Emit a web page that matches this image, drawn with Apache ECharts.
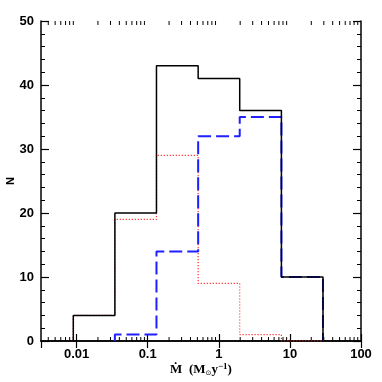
<!DOCTYPE html>
<html>
<head>
<meta charset="utf-8">
<script src="https://cdn.jsdelivr.net/npm/echarts@6/dist/echarts.min.js"></script>
<style>
  html, body { margin:0; padding:0; background:#fff; }
  #main { width:382px; height:382px; }
</style>
</head>
<body>
<div id="main"></div>
<script>
// bin edges (Mdot, Msun/yr) and counts per bin
var binEdges = [0.009, 0.0346, 0.133, 0.513, 1.97, 7.6, 29.2];
var countAll = [4, 20, 43, 41, 36, 10];
var countRed = [4, 19, 29, 9, 1, 0];
var countBlue = [0, 1, 14, 32, 35, 10];

var xMin = Math.pow(10, -2.5);
var xMax = 100;
var xMajor = [0.01, 0.1, 1, 10, 100];

var FONT = 'Liberation Sans';
var SERIF = 'Liberation Serif';

// outline of a histogram, leading empty bins are skipped
function stepLine(counts) {
  var first = 0;
  while (first < counts.length && counts[first] === 0) first++;
  var pts = [[binEdges[first], 0]];
  for (var i = first; i < counts.length; i++) {
    pts.push([binEdges[i], counts[i]]);
    pts.push([binEdges[i + 1], counts[i]]);
  }
  pts.push([binEdges[binEdges.length - 1], 0]);
  return pts;
}

// minor ticks of the log axis: 2..9 times each decade
function minorTicks() {
  var list = [];
  for (var k = -3; k <= 1; k++) {
    for (var d = 2; d <= 9; d++) {
      var v = d * Math.pow(10, k);
      if (v > xMin && v < xMax) list.push([v]);
    }
  }
  return list;
}

var myChart = echarts.init(document.getElementById('main'));

var axisLineStyle = { color:'#000', width:1.5 };

var option = {
  animation: false,
  grid: { left:41, right:21, top:21, bottom:41, outerBoundsMode:'none', containLabel:false },
  xAxis: [
    {
      type:'log', logBase:10, min:xMin, max:xMax,
      axisLine: { show:true, lineStyle:axisLineStyle },
      axisTick: { show:true, inside:true, length:7, lineStyle:{ color:'#000', width:1.2 } },
      axisLabel: {
        showMinLabel:false, margin:7, color:'#000',
        fontFamily:FONT, fontWeight:'bold', fontSize:13,
        formatter:function (v) {
          for (var i = 0; i < xMajor.length; i++) {
            if (Math.abs(v / xMajor[i] - 1) < 1e-6) return String(xMajor[i]);
          }
          return '';
        }
      },
      splitLine: { show:false },
      name:'{m|Ṁ}  {t|(M}{s|⊙}{t|y}{p|−1}{t|)}',
      nameLocation:'middle', nameGap:21, nameMoveOverlap:false,
      nameTextStyle: {
        color:'#000',
        rich: {
          m:{ fontFamily:SERIF, fontSize:13, fontWeight:'bold', color:'#000' },
          t:{ fontFamily:SERIF, fontSize:13, fontWeight:'bold', color:'#000' },
          s:{ fontFamily:'DejaVu Sans', fontSize:7, color:'#000', verticalAlign:'bottom', padding:[6,0,0,0] },
          p:{ fontFamily:SERIF, fontSize:9, fontWeight:'bold', color:'#000', verticalAlign:'top', padding:[0,0,6,0] }
        }
      }
    },
    {
      type:'log', logBase:10, min:xMin, max:xMax, position:'top',
      axisLine: { show:true, lineStyle:axisLineStyle },
      axisTick: { show:true, inside:true, length:7, lineStyle:{ color:'#000', width:1.2 } },
      axisLabel: { show:false },
      splitLine: { show:false }
    }
  ],
  yAxis: [
    {
      type:'value', min:0, max:50, interval:10,
      axisLine: { show:true, lineStyle:axisLineStyle },
      axisTick: { show:true, inside:true, length:8, lineStyle:{ color:'#000', width:1.2 } },
      minorTick: { show:true, splitNumber:5, length:4, lineStyle:{ color:'#000', width:1 } },
      axisLabel: { margin:7, color:'#000', fontFamily:FONT, fontWeight:'bold', fontSize:13 },
      splitLine: { show:false },
      name:'N', nameLocation:'middle', nameGap:25, nameRotate:90, nameMoveOverlap:false,
      nameTextStyle: { color:'#000', fontFamily:FONT, fontWeight:'bold', fontSize:11 }
    },
    {
      type:'value', min:0, max:50, interval:10, position:'right',
      axisLine: { show:true, lineStyle:axisLineStyle },
      axisTick: { show:true, inside:true, length:8, lineStyle:{ color:'#000', width:1.2 } },
      minorTick: { show:true, splitNumber:5, length:4, lineStyle:{ color:'#000', width:1 } },
      axisLabel: { show:false },
      splitLine: { show:false }
    }
  ],
  series: [
    {
      name:'minor', type:'custom', xAxisIndex:0, yAxisIndex:0, silent:true,
      data:minorTicks(),
      renderItem:function (params, api) {
        var b = api.coord([api.value(0), 0]);
        var t = api.coord([api.value(0), 50]);
        var st = { stroke:'#000', lineWidth:1 };
        return { type:'group', children:[
          { type:'line', shape:{ x1:b[0], y1:b[1], x2:b[0], y2:b[1] - 4 }, style:st },
          { type:'line', shape:{ x1:t[0], y1:t[1], x2:t[0], y2:t[1] + 4 }, style:st }
        ]};
      }
    },
    {
      name:'red', type:'line', data:stepLine(countRed), symbol:'none',
      lineStyle:{ color:'#ff3030', width:1.2, type:[1.2, 1.8] }
    },
    {
      name:'blue', type:'line', data:stepLine(countBlue), symbol:'none',
      lineStyle:{ color:'#1f1fff', width:2, type:[13, 5] }
    },
    {
      name:'all', type:'line', data:stepLine(countAll), symbol:'none',
      lineStyle:{ color:'#000', width:1.5 }
    }
  ]
};

myChart.setOption(option);
</script>
</body>
</html>
